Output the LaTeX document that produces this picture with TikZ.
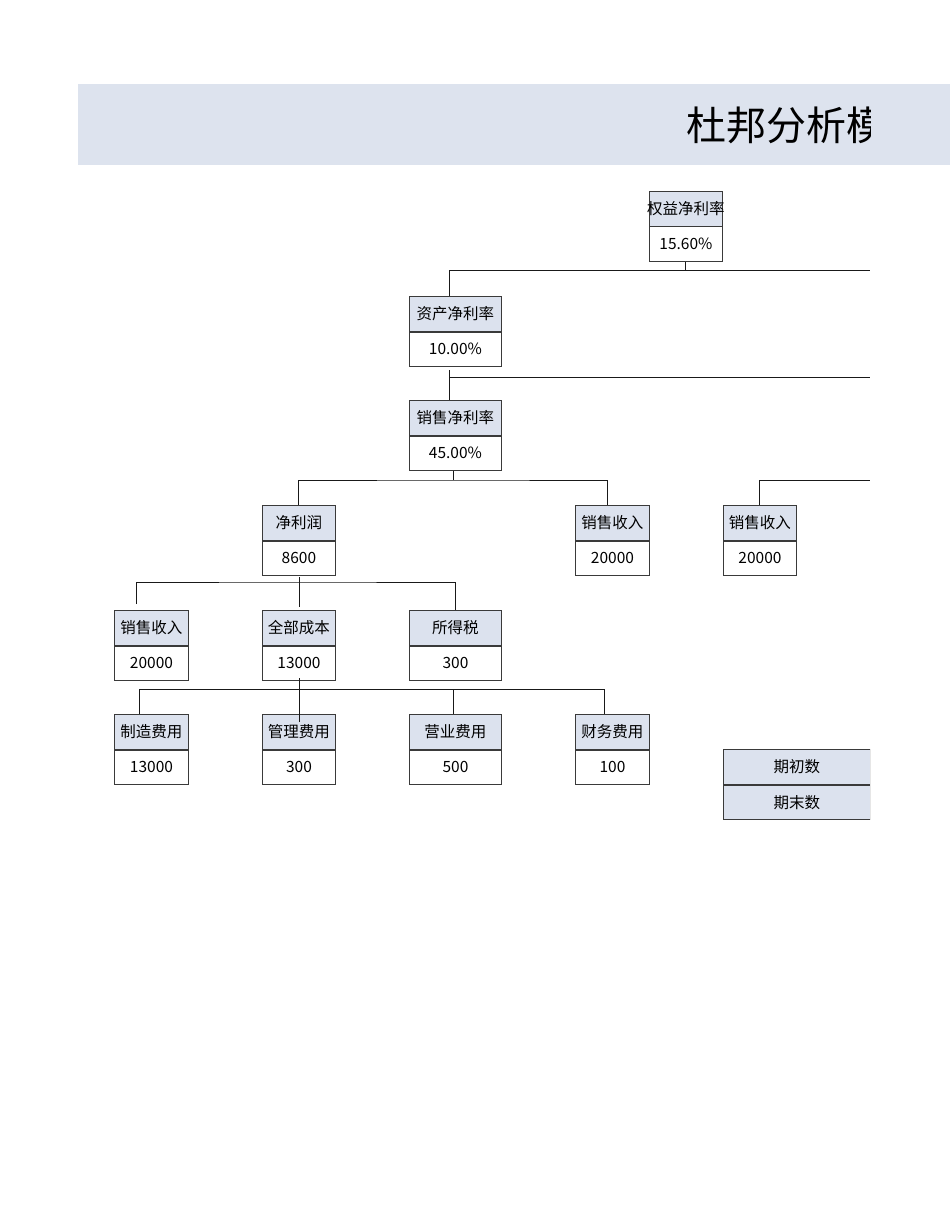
\documentclass[tikz,border=0pt]{standalone}
\usepackage{fontspec}
\setmainfont{Noto Sans CJK SC}
\definecolor{hdr}{HTML}{DCE2EE}
\definecolor{bord}{HTML}{3A3A3A}
\definecolor{banner}{HTML}{DDE3EE}
\tikzset{
  cell/.style={draw=bord, line width=0.9pt, anchor=north west, inner sep=0pt,
    minimum height=34.6pt, font=\fontsize{15.5}{18}\selectfont, text=black},
  hcell/.style={cell, fill=hdr},
  vcell/.style={cell, fill=white},
  conn/.style={draw=black!90, line width=1pt},
}
\newcommand\dupbox[6]{%
  \node[hcell, minimum width=#4pt] (#1H) at (#2,#3) {\makebox[0pt]{#5}};
  \node[vcell, minimum width=#4pt] (#1V) at (#1H.south west) {\makebox[0pt]{#6}};
}
\begin{document}
\begin{tikzpicture}[x=1pt,y=-1pt]
\useasboundingbox (0,0) rectangle (950,1230);
\fill[banner] (78,84) rectangle (950,165);
\begin{scope}
\clip (0,0) rectangle (870,1230);
\node[anchor=west, inner sep=0pt, font=\fontsize{40}{48}\selectfont] (title) at (686,125) {杜邦分析模型};

% boxes
\dupbox{roe}{649}{191}{73}{权益净利率}{15.60\%}
\dupbox{roa}{409}{296}{92}{资产净利率}{10.00\%}
\dupbox{snp}{409}{400}{92}{销售净利率}{45.00\%}
\dupbox{np}{262}{505}{73}{净利润}{8600}
\dupbox{revA}{575}{505}{74}{销售收入}{20000}
\dupbox{revB}{723}{505}{73}{销售收入}{20000}
\dupbox{revC}{114}{610}{74}{销售收入}{20000}
\dupbox{cost}{262}{610}{73}{全部成本}{13000}
\dupbox{tax}{409}{610}{92}{所得税}{300}
\dupbox{mfg}{114}{714}{74}{制造费用}{13000}
\dupbox{adm}{262}{714}{73}{管理费用}{300}
\dupbox{sel}{409}{714}{92}{营业费用}{500}
\dupbox{fin}{575}{714}{74}{财务费用}{100}
\node[hcell, minimum width=147pt] (pb) at (723,749) {期初数};
\node[hcell, minimum width=147pt] (pe) at (pb.south west) {期末数};

% bus coordinates
\coordinate (e1) at (870,271);
\coordinate (e2) at (870,377);
\coordinate (e3) at (870,480);

% level 1
\draw[conn] (roeV.south) -- (roeV.south |- e1);
\draw[conn] ([xshift=-6pt]roaH.north) |- (e1);
% level 2
\draw[conn] ([xshift=-6pt,yshift=-3pt]roaV.south) -- ([xshift=-6pt]snpH.north);
\draw[conn] ([xshift=-6pt]roaV.south |- e2) -- (e2);
% level 3
\coordinate (b3) at ([xshift=-2pt]snpV.south |- e3);
\draw[conn] ([xshift=-2pt]snpV.south) -- (b3);
\draw[conn] ([xshift=-0.5pt]npH.north) |- (b3) -| ([xshift=-5pt]revAH.north);
\draw[conn] ([xshift=-0.5pt]revBH.north) |- (e3);
% level 4
\coordinate (b4) at (0,582);
\draw[conn] ([xshift=0.5pt,yshift=-1pt]npV.south) -- ([xshift=0.5pt,yshift=3pt]costH.north);
\draw[conn] ([xshift=-15pt,yshift=6pt]revCH.north) |- ([xshift=0.5pt]npV.south |- b4) -| (taxH.north);
% level 5
\coordinate (b5) at (0,689);
\draw[conn] ([xshift=-12pt]mfgH.north) |- ([xshift=-2pt]selH.north |- b5) -- ([xshift=-2pt]selH.north);
\draw[conn] ([xshift=-2pt]selH.north |- b5) -| ([xshift=-8pt]finH.north);
\draw[conn] ([xshift=0.5pt,yshift=3pt]costV.south) -- ([xshift=0.5pt,yshift=-8pt]admH.north);
\end{scope}
\end{tikzpicture}
\end{document}
